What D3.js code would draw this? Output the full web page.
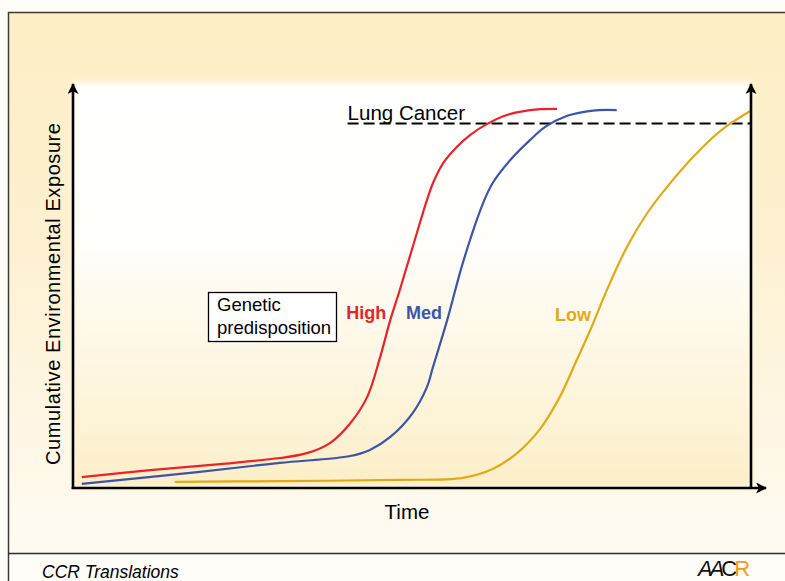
<!DOCTYPE html>
<html>
<head>
<meta charset="utf-8">
<script src="https://cdn.jsdelivr.net/npm/d3@7"></script>
<style>
  body { margin: 0; background: #ffffff; }
  svg { display: block; }
  text { font-family: "Liberation Sans", Arial, Helvetica, sans-serif; }
</style>
</head>
<body>
<div id="chart"></div>
<script>
// series (time 0-100, cumulative exposure 0-100)
var seriesNames = ["High", "Med", "Low"];

var highTime     = [1.3, 11.4, 21.7, 30.5, 34.5, 37.9, 40.9, 43.4, 45.3, 46.8, 48.2, 50.1, 52.2, 53.1, 54.6, 56.6, 58.6, 61.1, 64.0, 67.4, 71.4];
var highExposure = [2.7, 4.4, 5.9, 7.4, 8.6, 11.1, 16.0, 22.5, 32.3, 41.5, 48.9, 59.5, 71.1, 75.3, 80.2, 84.2, 87.2, 89.9, 92.1, 93.3, 93.6];

var medTime      = [1.3, 18.7, 30.5, 40.9, 43.8, 46.8, 50.1, 52.2, 53.1, 55.2, 57.5, 60.5, 61.9, 64.5, 67.4, 69.6, 72.9, 76.7, 80.2];
var medExposure  = [1.0, 4.0, 6.2, 7.9, 9.4, 12.6, 18.5, 24.9, 29.9, 41.5, 55.6, 70.4, 75.3, 81.0, 85.9, 89.1, 91.9, 93.2, 93.3];

var lowTime      = [15.0, 30.5, 48.2, 57.5, 61.9, 65.5, 68.9, 71.8, 74.3, 76.3, 78.8, 81.7, 84.7, 87.6, 90.6, 93.5, 96.2, 99.9];
var lowExposure  = [1.5, 1.7, 2.0, 2.5, 4.7, 8.6, 14.6, 22.5, 31.6, 39.0, 49.1, 59.5, 67.9, 74.3, 80.2, 85.2, 89.1, 93.1];

var lungCancerLevel = 90;
var lungCancerStart = 40.5;   // time where the dashed threshold begins

var xLabel = "Time";
var yLabel = "Cumulative Environmental Exposure";
var boxLines = ["Genetic", "predisposition"];
var footerText = "CCR Translations";

var colors = { High: "#e8232b", Med: "#3d55a5", Low: "#e0a918" };

var width = 785, height = 581;
var plot = { left: 73, right: 751, top: 83, bottom: 488 };

var x = d3.scaleLinear().domain([0, 100]).range([plot.left, plot.right]);
var y = d3.scaleLinear().domain([0, 100]).range([plot.bottom, plot.top]);

var svg = d3.select("#chart").append("svg")
    .attr("width", width)
    .attr("height", height);

var defs = svg.append("defs");

var outerGrad = defs.append("linearGradient").attr("id", "outerGrad")
    .attr("x1", 0).attr("y1", 0).attr("x2", 0).attr("y2", 1);
outerGrad.append("stop").attr("offset", "0%").attr("stop-color", "#fdeec5");
outerGrad.append("stop").attr("offset", "45%").attr("stop-color", "#fdf1d2");
outerGrad.append("stop").attr("offset", "100%").attr("stop-color", "#fffbf3");

var innerGrad = defs.append("linearGradient").attr("id", "innerGrad")
    .attr("x1", 0).attr("y1", 0).attr("x2", 0).attr("y2", 1);
innerGrad.append("stop").attr("offset", "0%").attr("stop-color", "#ffffff");
innerGrad.append("stop").attr("offset", "40%").attr("stop-color", "#fffefb");
innerGrad.append("stop").attr("offset", "100%").attr("stop-color", "#fcefc8");

defs.append("filter").attr("id", "soft")
    .attr("x", "-5%").attr("y", "-5%").attr("width", "110%").attr("height", "110%")
  .append("feGaussianBlur").attr("stdDeviation", 3);

// arrowhead used on the axes
defs.append("marker").attr("id", "arrow")
    .attr("viewBox", "0 0 10 10")
    .attr("refX", 9).attr("refY", 5)
    .attr("markerUnits", "userSpaceOnUse")
    .attr("markerWidth", 12).attr("markerHeight", 11)
    .attr("orient", "auto")
  .append("path").attr("d", "M0,0L10,5L0,10L2.5,5Z").attr("fill", "#000");

// footer background
svg.append("rect").attr("x", 0).attr("y", 0).attr("width", width).attr("height", height).attr("fill", "#fffdf8");

// panel
svg.append("rect")
    .attr("x", 8).attr("y", 12)
    .attr("width", width).attr("height", 541)
    .attr("fill", "url(#outerGrad)");

// white plot backdrop with soft edges
svg.append("rect")
    .attr("x", plot.left).attr("y", plot.top)
    .attr("width", plot.right - plot.left).attr("height", plot.bottom - plot.top)
    .attr("fill", "url(#innerGrad)")
    .attr("filter", "url(#soft)");

// panel border lines
svg.append("path")
    .attr("d", "M" + width + ",12.5H8.5V" + height)
    .attr("fill", "none").attr("stroke", "#3a3a3a").attr("stroke-width", 1.5);
svg.append("line")
    .attr("x1", 8).attr("x2", width).attr("y1", 553.5).attr("y2", 553.5)
    .attr("stroke", "#2a2a2a").attr("stroke-width", 1.3);

// threshold
svg.append("line")
    .attr("x1", x(lungCancerStart)).attr("x2", x(100))
    .attr("y1", y(lungCancerLevel)).attr("y2", y(lungCancerLevel))
    .attr("stroke", "#000").attr("stroke-width", 2)
    .attr("stroke-dasharray", "11,5");

svg.append("text")
    .attr("x", x(lungCancerStart)).attr("y", y(lungCancerLevel) - 4)
    .attr("font-size", 20.5)
    .attr("fill", "#000")
    .text("Lung Cancer");

// curves
var line = d3.line()
    .x(function (d) { return x(d[0]); })
    .y(function (d) { return y(d[1]); })
    .curve(d3.curveCatmullRom.alpha(0.5));

var series = [
    { name: "High", t: highTime, e: highExposure },
    { name: "Med",  t: medTime,  e: medExposure },
    { name: "Low",  t: lowTime,  e: lowExposure }
];

svg.selectAll("path.curve").data(series)
  .enter().append("path")
    .attr("class", "curve")
    .attr("fill", "none")
    .attr("stroke", function (d) { return colors[d.name]; })
    .attr("stroke-width", 2.2)
    .attr("d", function (d) {
        return line(d.t.map(function (v, i) { return [v, d.e[i]]; }));
    });

// axes (only the domain lines, with arrows)
var axisY = d3.axisLeft(y).ticks(0).tickSizeOuter(0);
var axisX = d3.axisBottom(x).ticks(0).tickSizeOuter(0);

svg.append("g").attr("transform", "translate(" + x(0) + ",0)").call(axisY)
    .select(".domain").attr("stroke", "#000").attr("stroke-width", 2.6)
    .attr("d", "M0," + (y(0) + 1) + "V" + (y(100) + 1))
    .attr("marker-end", "url(#arrow)");

svg.append("g").attr("transform", "translate(" + x(100) + ",0)").call(axisY)
    .select(".domain").attr("stroke", "#000").attr("stroke-width", 2.6)
    .attr("d", "M0," + (y(0) + 1) + "V" + (y(100) + 1))
    .attr("marker-end", "url(#arrow)");

svg.append("g").attr("transform", "translate(0," + y(0) + ")").call(axisX)
    .select(".domain").attr("stroke", "#000").attr("stroke-width", 2.6)
    .attr("d", "M" + (x(0) - 1.3) + ",0H" + (x(100) + 15))
    .attr("marker-end", "url(#arrow)");

// axis titles
svg.append("text")
    .attr("x", 407)
    .attr("y", 519)
    .attr("text-anchor", "middle")
    .attr("font-size", 20.5)
    .text(xLabel);

svg.append("text")
    .attr("transform", "translate(60,294) rotate(-90)")
    .attr("text-anchor", "middle")
    .attr("font-size", 20)
    .attr("textLength", 342)
    .attr("lengthAdjust", "spacing")
    .text(yLabel);

// series labels
var labelAt = { High: [40.3, 41.7], Med: [49.1, 41.7], Low: [71.1, 41.2] };
svg.selectAll("text.serieslabel").data(seriesNames)
  .enter().append("text")
    .attr("class", "serieslabel")
    .attr("x", function (d) { return x(labelAt[d][0]); })
    .attr("y", function (d) { return y(labelAt[d][1]); })
    .attr("font-size", 18)
    .attr("font-weight", "bold")
    .attr("fill", function (d) { return colors[d]; })
    .text(function (d) { return d; });

// genetic predisposition box
svg.append("rect")
    .attr("x", 208.5).attr("y", 292.5)
    .attr("width", 128).attr("height", 49)
    .attr("fill", "#fff").attr("stroke", "#000").attr("stroke-width", 1.3);

svg.selectAll("text.box").data(boxLines)
  .enter().append("text")
    .attr("class", "box")
    .attr("x", 217)
    .attr("y", function (d, i) { return 311 + i * 23; })
    .attr("font-size", 18.5)
    .text(function (d) { return d; });

// footer
svg.append("text")
    .attr("x", 42).attr("y", 578)
    .attr("font-size", 17.5)
    .attr("font-style", "italic")
    .text(footerText);

var logo = svg.append("text")
    .attr("x", 698).attr("y", 576)
    .attr("font-family", "'Liberation Serif', 'DejaVu Serif', serif")
    .attr("font-size", 22)
    .attr("letter-spacing", -3);
logo.append("tspan").attr("font-style", "italic").attr("fill", "#111").text("AA");
logo.append("tspan").attr("fill", "#111").text("C");
logo.append("tspan").attr("fill", "#f39a1e").text("R");
</script>
</body>
</html>
